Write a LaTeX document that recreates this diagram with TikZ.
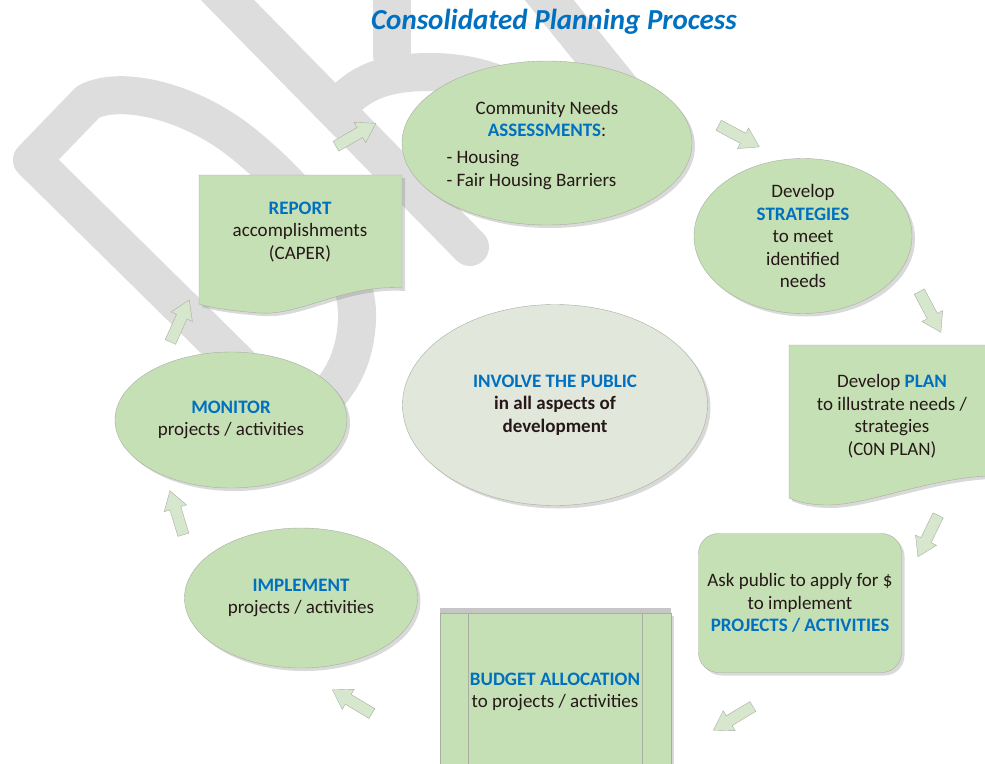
\documentclass[tikz,border=0pt]{standalone}
\usepackage{fontspec}
\setmainfont{Carlito}
\usetikzlibrary{shapes.geometric,shapes.arrows,shadows,positioning}

\definecolor{stepgreen}{RGB}{197,224,180}
\definecolor{hubgreen}{RGB}{225,231,219}
\definecolor{arrowgreen}{RGB}{214,231,205}
\definecolor{edgegray}{RGB}{168,174,162}
\definecolor{headblue}{RGB}{0,112,192}
\definecolor{bodytext}{RGB}{38,24,24}
\definecolor{draftgray}{RGB}{221,221,221}

\newcommand{\stage}[1]{\textcolor{headblue}{\textbf{#1}}}

\begin{document}
\begin{tikzpicture}[x=1pt, y=-1pt,
    bubble/.style={ellipse, draw=edgegray, fill=stepgreen, inner sep=0pt, drop shadow={shadow xshift=3pt, shadow yshift=-3pt, opacity=0.3}},
    paper/.style={draw=edgegray, fill=stepgreen, drop shadow={shadow xshift=3pt, shadow yshift=-3pt, opacity=0.3}},
    txt/.style={align=center, text=bodytext, font=\fontsize{19}{22.5}\selectfont},
    flow/.style={single arrow, draw=edgegray, fill=arrowgreen, minimum height=46pt, inner xsep=0pt, inner ysep=5.5pt, single arrow head extend=6pt, single arrow tip angle=65},
    draft/.style={draftgray, line width=38pt, line cap=round, line join=round}
]
\useasboundingbox (0,0) rectangle (985,763);
\clip (0,0) rectangle (985,763);

% Watermark strokes
\draw[draft] (240,365) -- (32,160) -- (88,102) .. controls (120,85) and (190,100) .. (245,145) .. controls (300,190) and (360,260) .. (357,320) .. controls (355,360) and (340,385) .. (318,405);
\draw[draft] (198,-30) -- (470,247);
\draw[draft] (392,-30) -- (392,55);
\draw[draft] (345,100) .. controls (365,80) and (390,72) .. (430,72) .. controls (470,72) and (500,82) .. (530,100);
\draw[draft] (525,-30) -- (630,100);

% Title
\node[font=\fontsize{29}{34}\selectfont\bfseries\itshape, text=headblue] (title) at (554,22) {Consolidated Planning Process};

% Process steps
\node[bubble, minimum width=290pt, minimum height=164pt] (assess) at (547,143) {};
\node[txt] (assesshead) at (547,119) {Community Needs\\ \stage{ASSESSMENTS}:};
\node[txt, align=left, anchor=west] (assesslist) at (443,170) {- Housing\\ - Fair Housing Barriers};

\node[bubble, txt, minimum width=218pt, minimum height=155pt] (strategy) at (803,236) {Develop\\ \stage{STRATEGIES}\\ to meet\\ identified\\ needs};

\draw[paper] (789,345) -- (1000,345) -- (1000,476) .. controls (940,474) and (870,505) .. (828,505) .. controls (810,505) and (798,502) .. (789,498) -- cycle;
\node[txt] (plan) at (892,416) {Develop \stage{PLAN}\\ to illustrate needs /\\ strategies\\ (C0N PLAN)};

\node[paper, txt, rounded corners=20pt, minimum width=203pt, minimum height=139pt] (apply) at (800,603) {Ask public to apply for \$\\ to implement\\ \stage{PROJECTS / ACTIVITIES}};

\draw[paper, drop shadow={shadow xshift=0pt, shadow yshift=5pt, opacity=0.45}] (440,613) rectangle (671,790);
\draw[edgegray] (468,613) -- (468,790);
\draw[edgegray] (642,613) -- (642,790);
\node[txt] (budget) at (555,692) {\stage{BUDGET ALLOCATION}\\ to projects / activities};

\node[bubble, txt, minimum width=233pt, minimum height=140pt] (implement) at (301,598) {\stage{IMPLEMENT}\\ projects / activities};

\node[bubble, txt, minimum width=232pt, minimum height=136pt] (monitor) at (231,420) {\stage{MONITOR}\\ projects / activities};

\draw[paper] (199,175) -- (402,175) -- (402,288) .. controls (345,284) and (300,316) .. (260,313) .. controls (232,311) and (212,308) .. (199,304) -- cycle;
\node[txt] (report) at (300,232) {\stage{REPORT}\\ accomplishments\\ (CAPER)};

% Centre
\node[bubble, txt, fill=hubgreen, font=\fontsize{19}{22.5}\selectfont\bfseries, minimum width=305pt, minimum height=201pt] (hub) at (555,405) {\stage{INVOLVE THE PUBLIC}\\ in all aspects of\\ development};

% Cycle arrows
\node[flow, rotate=30] (a1) at (352,137) {};
\node[flow, rotate=-28] (a2) at (735,134) {};
\node[flow, rotate=-62] (a3) at (928,308) {};
\node[flow, rotate=244] (a4) at (930,532) {};
\node[flow, rotate=211] (a5) at (737,716) {};
\node[flow, rotate=149] (a6) at (356,704) {};
\node[flow, rotate=107] (a7) at (178,517) {};
\node[flow, rotate=66] (a8) at (178,325) {};

\end{tikzpicture}
\end{document}
